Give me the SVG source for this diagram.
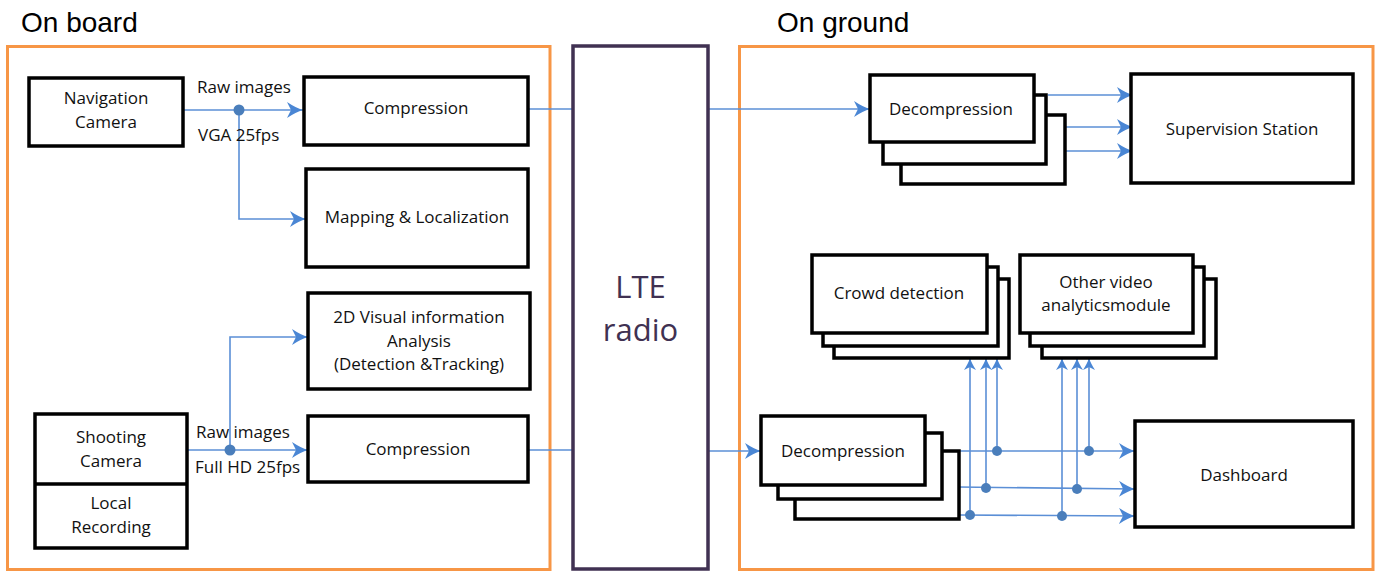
<svg xmlns="http://www.w3.org/2000/svg" width="1379" height="572" viewBox="0 0 1379 572">
  <style>
    .zone { fill: none; stroke: #F79646; stroke-width: 3; }
    .radio { fill: #fff; stroke: #403152; stroke-width: 3.5; }
    .box { fill: #fff; stroke: #000; stroke-width: 3.5; }
    .head { font-family: "Liberation Sans", Arial, sans-serif; font-size: 28px; fill: #000; }
    .lbl { font-family: "Open Sans", "Noto Sans", sans-serif; font-size: 17px; fill: #111; text-anchor: middle; }
    .note { font-family: "Open Sans", "Noto Sans", sans-serif; font-size: 17px; fill: #111; }
    .lte { font-family: "Open Sans", "Noto Sans", sans-serif; font-size: 31px; fill: #403152; text-anchor: middle; }
    .wire { fill: none; stroke: #5B8FD6; stroke-width: 1.6; }
    .arr { marker-end: url(#head); }
    .arr-s { marker-end: url(#headSmall); }
    .dot { fill: #4A7EBB; }
  </style>
  <defs>
    <marker id="head" viewBox="0 0 16 16" markerWidth="16" markerHeight="16" refX="16" refY="8" orient="auto" markerUnits="userSpaceOnUse">
      <path d="M0,0 Q9,6 16,8 Q9,10 0,16 L4,8 Z" fill="#4A86D4"/>
    </marker>
    <marker id="headSmall" viewBox="0 0 12 12" markerWidth="12" markerHeight="12" refX="12" refY="6" orient="auto" markerUnits="userSpaceOnUse">
      <path d="M0,0 Q7,4.5 12,6 Q7,7.5 0,12 L3,6 Z" fill="#4A86D4"/>
    </marker>
  </defs>

  <rect width="1379" height="572" fill="#fff"/>

  <!-- zone headings and frames -->
  <text class="head" x="21" y="32">On board</text>
  <text class="head" x="777" y="32">On ground</text>
  <rect id="onboard-zone" class="zone" x="7.5" y="46.5" width="542.5" height="523"/>
  <rect id="onground-zone" class="zone" x="739.5" y="46.5" width="633.5" height="523"/>

  <!-- connectors -->
  <g id="connectors">
    <!-- navigation camera branch -->
    <path class="wire arr" d="M183,110 L303,110"/>
    <path class="wire arr" d="M239,110 L239,219 L306,219"/>
    <circle class="dot" cx="239" cy="110" r="5.5"/>
    <!-- shooting camera branch -->
    <path class="wire arr" d="M187,450 L308,450"/>
    <path class="wire arr" d="M230,450 L230,337 L308,337"/>
    <circle class="dot" cx="230" cy="450" r="5.5"/>
    <!-- radio links -->
    <path class="wire" d="M528,109 L573,109"/>
    <path class="wire arr" d="M708,109 L870,109"/>
    <path class="wire" d="M528,450 L573,450"/>
    <path class="wire arr" d="M708,451 L761,451"/>
    <!-- to supervision station -->
    <path class="wire arr" d="M1048,95 L1133,95"/>
    <path class="wire arr" d="M1048,127 L1133,127"/>
    <path class="wire arr" d="M1061,151 L1133,151"/>
    <!-- to dashboard -->
    <path class="wire arr" d="M943,451 L1135,451"/>
    <path class="wire arr" d="M958,487 L1135,489"/>
    <path class="wire arr" d="M959,515 L1135,516"/>
    <!-- up to analytics modules -->
    <path class="wire arr-s" d="M970,515 L970,358"/>
    <path class="wire arr-s" d="M986,488 L986,358"/>
    <path class="wire arr-s" d="M997,451 L997,358"/>
    <path class="wire arr-s" d="M1062,516 L1062,358"/>
    <path class="wire arr-s" d="M1077,489 L1077,358"/>
    <path class="wire arr-s" d="M1089,451 L1089,358"/>
    <circle class="dot" cx="997" cy="451" r="5"/>
    <circle class="dot" cx="986" cy="488" r="5"/>
    <circle class="dot" cx="970" cy="515" r="5"/>
    <circle class="dot" cx="1089" cy="451" r="5"/>
    <circle class="dot" cx="1077" cy="489" r="5"/>
    <circle class="dot" cx="1062" cy="516" r="5"/>
  </g>

  <!-- on board -->
  <g id="nav-camera">
    <rect class="box" x="29" y="78" width="154" height="68"/>
    <text class="lbl" x="106" y="104">Navigation</text>
    <text class="lbl" x="106" y="128">Camera</text>
  </g>
  <g id="compression-nav">
    <rect class="box" x="304" y="77" width="224" height="68"/>
    <text class="lbl" x="416" y="114">Compression</text>
  </g>
  <g id="mapping">
    <rect class="box" x="306" y="169" width="222" height="98"/>
    <text class="lbl" x="417" y="223">Mapping &amp; Localization</text>
  </g>
  <g id="visual-analysis">
    <rect class="box" x="308" y="293" width="222" height="96"/>
    <text class="lbl" x="419" y="323">2D Visual information</text>
    <text class="lbl" x="419" y="347">Analysis</text>
    <text class="lbl" x="419" y="370">(Detection &amp;Tracking)</text>
  </g>
  <g id="compression-shoot">
    <rect class="box" x="308" y="416" width="220" height="66"/>
    <text class="lbl" x="418" y="455">Compression</text>
  </g>
  <g id="shooting-camera">
    <rect class="box" x="35" y="414" width="152" height="134"/>
    <line x1="35" y1="484" x2="187" y2="484" stroke="#000" stroke-width="3.5"/>
    <text class="lbl" x="111" y="443">Shooting</text>
    <text class="lbl" x="111" y="467">Camera</text>
    <text class="lbl" x="111" y="509">Local</text>
    <text class="lbl" x="111" y="533">Recording</text>
  </g>
  <g id="stream-labels">
    <text class="note" x="197" y="93">Raw images</text>
    <text class="note" x="198" y="141">VGA 25fps</text>
    <text class="note" x="196" y="438">Raw images</text>
    <text class="note" x="195" y="473">Full HD 25fps</text>
  </g>

  <!-- radio link -->
  <g id="lte-radio">
    <rect class="radio" x="573" y="46" width="135" height="523"/>
    <text class="lte" x="640.5" y="298">LTE</text>
    <text class="lte" x="640.5" y="341">radio</text>
  </g>

  <!-- on ground -->
  <g id="decompression-top">
    <rect class="box" x="901" y="115" width="164" height="69"/>
    <rect class="box" x="883" y="95" width="163" height="69"/>
    <rect class="box" x="870" y="75" width="164" height="67"/>
    <text class="lbl" x="951" y="115">Decompression</text>
  </g>
  <g id="supervision">
    <rect class="box" x="1131" y="74" width="222" height="109"/>
    <text class="lbl" x="1242" y="135">Supervision Station</text>
  </g>
  <g id="crowd-detection">
    <rect class="box" x="834" y="279" width="175" height="79"/>
    <rect class="box" x="823" y="267" width="175" height="79"/>
    <rect class="box" x="812" y="255" width="175" height="78"/>
    <text class="lbl" x="899" y="299">Crowd detection</text>
  </g>
  <g id="other-analytics">
    <rect class="box" x="1042" y="279" width="174" height="79"/>
    <rect class="box" x="1030" y="267" width="174" height="79"/>
    <rect class="box" x="1020" y="255" width="173" height="78"/>
    <text class="lbl" x="1106" y="288">Other video</text>
    <text class="lbl" x="1106" y="311">analyticsmodule</text>
  </g>
  <g id="decompression-bottom">
    <rect class="box" x="795" y="451" width="164" height="68"/>
    <rect class="box" x="778" y="433" width="164" height="66"/>
    <rect class="box" x="761" y="416" width="164" height="69"/>
    <text class="lbl" x="843" y="457">Decompression</text>
  </g>
  <g id="dashboard">
    <rect class="box" x="1135" y="421" width="218" height="106"/>
    <text class="lbl" x="1244" y="481">Dashboard</text>
  </g>
</svg>
